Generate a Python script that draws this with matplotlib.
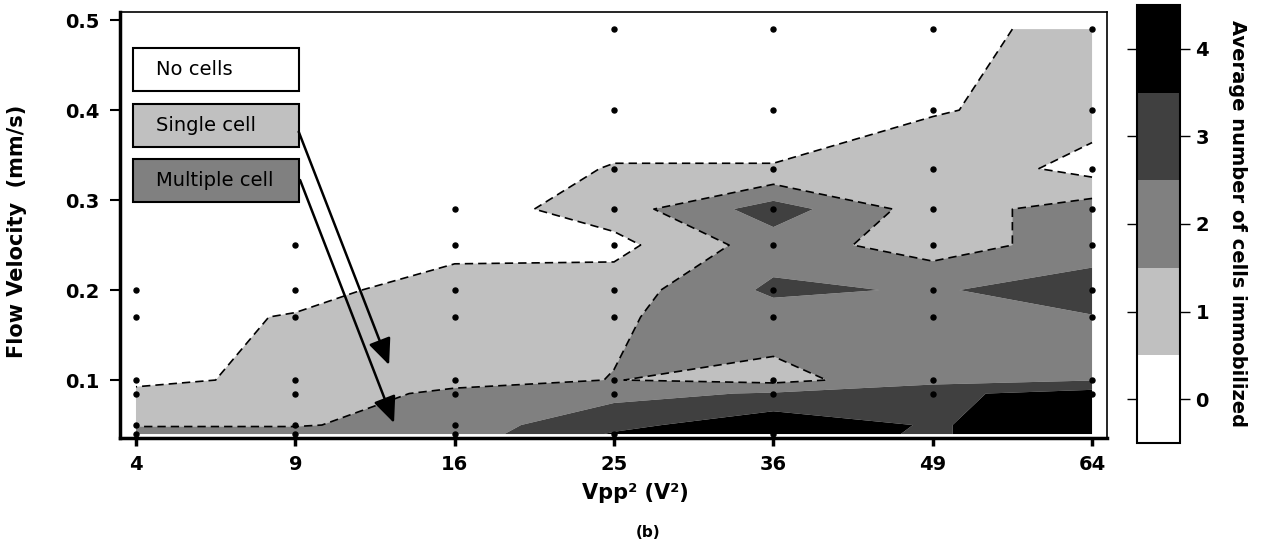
import numpy as np
import matplotlib.pyplot as plt
from matplotlib.patches import Rectangle

# Vpp (V) - ticks are labelled with Vpp^2
vpp = [2, 3, 4, 5, 6, 7, 8]
# flow velocity grid (mm/s)
flow = [0.04, 0.05, 0.085, 0.1, 0.17, 0.2, 0.25, 0.29, 0.335, 0.4, 0.49]

# average number of immobilized cells, one list per Vpp column (bottom -> top)
cells_4 = [2.0, 1.4, 1.0, 0.0, 0.0, 0.0, 0.0, 0.0, 0.0, 0.0, 0.0]
cells_9 = [2.0, 1.4, 1.0, 1.0, 0.6, 0.0, 0.0, 0.0, 0.0, 0.0, 0.0]
cells_16 = [2.0, 2.0, 1.7, 1.2, 1.0, 1.2, 0.0, 0.0, 0.0, 0.0, 0.0]
cells_25 = [3.6, 3.2, 2.2, 1.52, 1.4, 1.0, 0.2, 1.0, 0.55, 0.0, 0.0]
cells_36 = [3.9, 4.2, 2.6, 1.2, 2.0, 2.7, 2.0, 3.0, 0.55, 0.0, 0.0]
cells_49 = [3.4, 3.4, 3.3, 2.1, 2.0, 2.4, 1.0, 1.0, 1.3, 0.4, 0.0]
cells_64 = [4.2, 4.2, 3.9, 2.45, 2.45, 3.0, 2.0, 2.0, 0.1, 1.0, 1.0]

# measured points (flow velocities tested at each Vpp)
tested = {
    2: [0.2, 0.17, 0.1, 0.085, 0.05, 0.04],
    3: [0.25, 0.2, 0.17, 0.1, 0.085, 0.05, 0.04],
    4: [0.29, 0.25, 0.2, 0.17, 0.1, 0.085, 0.05, 0.04],
    5: [0.49, 0.4, 0.335, 0.29, 0.25, 0.2, 0.17, 0.1, 0.085, 0.04],
    6: [0.49, 0.4, 0.335, 0.29, 0.25, 0.2, 0.17, 0.1, 0.085, 0.04],
    7: [0.49, 0.4, 0.335, 0.29, 0.25, 0.2, 0.17, 0.1, 0.085],
    8: [0.49, 0.4, 0.335, 0.29, 0.25, 0.2, 0.17, 0.1, 0.085],
}

levels = [-0.5, 0.5, 1.5, 2.5, 3.5, 4.5]
shades = ['white', '#c0c0c0', '#808080', '#404040', 'black']

Z = np.column_stack([cells_4, cells_9, cells_16, cells_25, cells_36, cells_49, cells_64])
X, Y = np.meshgrid(vpp, flow)

fig = plt.figure(figsize=(12.61, 5.54), dpi=100)
ax = fig.add_axes([0.0952, 0.2094, 0.7827, 0.7689])
cax = fig.add_axes([0.9017, 0.2004, 0.0341, 0.7906])

cf = ax.contourf(X, Y, Z, levels=levels, colors=shades, antialiased=True)
ax.contour(X, Y, Z, levels=[0.5, 1.5], colors='black', linewidths=1.2,
           linestyles=[(0, (5, 3))])

px, py = [], []
for v, ys in tested.items():
    px += [v] * len(ys)
    py += ys
ax.plot(px, py, 'o', color='black', ms=3.6, zorder=5)

ax.set_xlim(1.90, 8.094)
ax.set_ylim(0.0356, 0.509)
ax.set_xticks(vpp)
ax.set_xticklabels([str(v * v) for v in vpp])
ax.set_yticks([0.1, 0.2, 0.3, 0.4, 0.5])
ax.set_yticklabels(['0.1', '0.2', '0.3', '0.4', '0.5'])
for lab in ax.get_xticklabels() + ax.get_yticklabels():
    lab.set_fontweight('bold')
    lab.set_fontsize(14)
ax.tick_params(axis='x', direction='out', length=6, width=2.5, pad=6)
ax.tick_params(axis='y', direction='out', length=7, width=1.5, pad=8)
ax.spines['left'].set_linewidth(2.5)
ax.spines['bottom'].set_linewidth(2.5)
ax.spines['top'].set_linewidth(1.2)
ax.spines['right'].set_linewidth(1.2)

ax.set_xlabel('Vpp\u00b2 (V\u00b2)', fontsize=15, fontweight='bold')
ax.xaxis.set_label_coords(0.522, -0.105)
ax.set_ylabel('Flow Velocity  (mm/s)', fontsize=15, fontweight='bold')
ax.yaxis.set_label_coords(-0.094, 0.486)

# legend boxes
boxes = [('No cells', 'white', 0.8146), ('Single cell', '#c0c0c0', 0.6831),
         ('Multiple cell', '#808080', 0.554)]
for text, col, y0 in boxes:
    ax.add_patch(Rectangle((0.0132, y0), 0.1682, 0.101, transform=ax.transAxes,
                           facecolor=col, edgecolor='black', lw=1.5, zorder=6))
    ax.text(0.0365, y0 + 0.0505, text, transform=ax.transAxes, fontsize=14,
            va='center', ha='left', zorder=7)

arrow = dict(arrowstyle='-|>,head_length=0.8,head_width=0.35', color='black',
             lw=1.8, shrinkA=0, shrinkB=0, mutation_scale=20)
ax.annotate('', xy=(0.2726, 0.1714), xytext=(0.181, 0.719),
            xycoords='axes fraction', arrowprops=arrow, zorder=8)
ax.annotate('', xy=(0.2776, 0.0352), xytext=(0.1824, 0.6056),
            xycoords='axes fraction', arrowprops=arrow, zorder=8)

cb = fig.colorbar(cf, cax=cax, ticks=[0, 1, 2, 3, 4])
cb.outline.set_linewidth(1.5)
cax.tick_params(left=True, right=True, direction='out', length=7, width=1, pad=4)
for lab in cax.get_yticklabels():
    lab.set_fontweight('bold')
    lab.set_fontsize(14)
cb.set_label('Average number of cells immobilized', rotation=-90, fontsize=14,
             fontweight='bold', labelpad=14, va='bottom')

fig.text(0.514, 0.038, '(b)', fontsize=11, fontweight='bold', ha='center', va='center')

fig.savefig('out.png', dpi=100)
